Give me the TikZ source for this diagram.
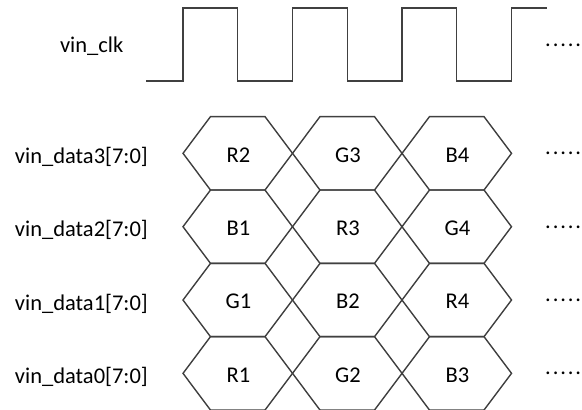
\documentclass[tikz,border=0pt]{standalone}
\usepackage{fontspec}
\setmainfont{Carlito}
\definecolor{wavegray}{HTML}{404040}
\begin{document}
\begin{tikzpicture}[x=1pt,y=-1pt,
  wave/.style={draw=wavegray, line width=1.4pt, line join=miter},
  lbl/.style={font=\fontsize{22.5}{26}\selectfont, inner sep=0pt, text=black},
  dotstyle/.style={font=\fontsize{22.5}{26}\selectfont, inner sep=0pt, text=black, anchor=base west}]
\useasboundingbox (0,0) rectangle (582,410);
% clock
\draw[wave] (146,81) -- (183,81) -- (183,8) -- (237.75,8) -- (237.75,81)
  -- (292.5,81) -- (292.5,8) -- (347.25,8) -- (347.25,81)
  -- (402,81) -- (402,8) -- (456.75,8) -- (456.75,81)
  -- (511.5,81) -- (511.5,8) -- (547,8);
\node[lbl, anchor=base] (labclk) at (91.7,52) {vin\_clk};
\node[dotstyle] (dotsclk) at (545,46) {.\hspace{1.9pt}.\hspace{1.9pt}.\hspace{1.9pt}.\hspace{1.9pt}.};
% data buses
\foreach \yc/\a/\b/\cc/\n in {153.33/R2/G3/B4/3, 226.67/B1/R3/G4/2, 300/G1/B2/R4/1, 373.33/R1/G2/B3/0}{
  \foreach \t [count=\k from 0] in {\a,\b,\cc}{
    \pgfmathsetmacro\xa{183+109.5*\k}
    \pgfmathsetmacro\xb{\xa+109.5}
    \draw[wave] (\xa,\yc) -- (\xa+27.5,\yc-36.67) -- (\xb-27.5,\yc-36.67) -- (\xb,\yc)
      -- (\xb-27.5,\yc+36.67) -- (\xa+27.5,\yc+36.67) -- cycle;
    \node[lbl, anchor=base] (cell\n\k) at (\xa+55.5,\yc+8.8) {\t};
  }
  \node[lbl, anchor=base east] (lab\n) at (148,\yc+10) {vin\_data\n[7:0]};
  \node[dotstyle] (dots\n) at (545,\yc+1.5) {.\hspace{1.9pt}.\hspace{1.9pt}.\hspace{1.9pt}.\hspace{1.9pt}.};
}
\end{tikzpicture}
\end{document}
